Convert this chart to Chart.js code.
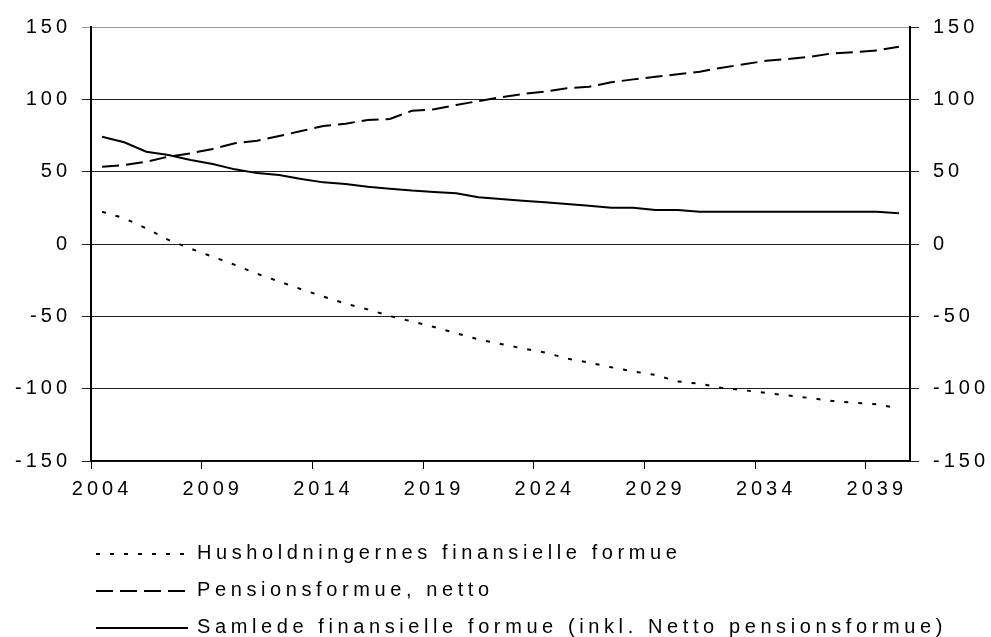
<!DOCTYPE html>
<html>
<head>
<meta charset="utf-8">
<script src="https://cdn.jsdelivr.net/npm/chart.js@4/dist/chart.umd.min.js"></script>
<style>
  html, body { margin: 0; padding: 0; background: #fff; }
  #wrap { width: 991px; height: 637px; }
</style>
</head>
<body>
<div id="wrap"><canvas id="chart"></canvas></div>
<script>
// år 2004-2040
const years = [];
for (let y = 2004; y <= 2040; y++) years.push(String(y));

const husholdninger = [
  22.3, 17.8, 10.8, 2.8, -3.2, -8.8, -14.4, -20.6, -25.9, -31.3,
  -36.3, -41.3, -45.2, -49.8, -53.5, -57.4, -61.7, -65.9, -69.1, -72.2,
  -75.0, -79.1, -82.0, -85.2, -88.1, -90.5, -95.0, -96.6, -99.5, -101.1,
  -103.0, -104.7, -106.5, -108.5, -109.8, -110.8, -113.7
];

const pension = [
  53.4, 54.6, 56.9, 60.4, 62.7, 65.7, 69.6, 71.4, 74.6, 78.1,
  81.6, 83.2, 85.7, 86.4, 92.1, 93.1, 96.1, 98.8, 101.4, 103.7,
  105.3, 107.6, 108.7, 111.8, 113.8, 115.6, 117.3, 119.1, 121.9, 124.2,
  126.7, 127.9, 129.5, 131.8, 132.7, 133.8, 136.4
];

const samlede = [
  74.2, 70.3, 63.8, 61.5, 58.0, 55.3, 51.6, 49.0, 47.7, 45.0,
  42.6, 41.5, 39.6, 38.2, 36.9, 36.0, 35.0, 32.3, 31.1, 29.9,
  28.8, 27.6, 26.5, 25.0, 25.1, 23.5, 23.5, 22.3, 22.3, 22.3,
  22.3, 22.3, 22.3, 22.3, 22.3, 22.3, 21.2
];

const seriesNames = [
  'Husholdningernes finansielle formue',
  'Pensionsformue, netto',
  'Samlede finansielle formue (inkl. Netto pensionsformue)'
];

const yMin = -150, yMax = 150, yStep = 50;

Chart.defaults.font.family = '"Liberation Sans", Arial, sans-serif';
Chart.defaults.font.size = 20;
Chart.defaults.color = '#000';

// teksten i originalen er spærret, så lidt bogstavafstand på hele canvas
const spacing = {
  id: 'spacing',
  beforeDraw(chart) {
    chart.ctx.letterSpacing = '4px';
  }
};

// legenden står under hinanden, så den tegnes selv
const stackedLegend = {
  id: 'stackedLegend',
  afterDraw(chart) {
    const c = chart.ctx;
    const x0 = 96, x1 = 188, tx = 197, top = 553, gap = 37;
    c.save();
    c.letterSpacing = '4.6px';
    c.font = '20px "Liberation Sans", Arial, sans-serif';
    c.fillStyle = '#000';
    c.textBaseline = 'middle';
    chart.data.datasets.forEach((ds, i) => {
      const y = top + i * gap;
      c.beginPath();
      c.setLineDash(ds.borderDash || []);
      c.lineWidth = ds.borderWidth;
      c.strokeStyle = ds.borderColor;
      c.moveTo(x0, y + 1);
      c.lineTo(x1, y + 1);
      c.stroke();
      c.setLineDash([]);
      c.fillText(ds.label, tx, y);
    });
    c.restore();
  }
};

new Chart(document.getElementById('chart'), {
  type: 'line',
  data: {
    labels: years,
    datasets: [
      { label: seriesNames[0], data: husholdninger, borderColor: '#000', borderWidth: 2, borderDash: [4, 10] },
      { label: seriesNames[1], data: pension, borderColor: '#000', borderWidth: 2, borderDash: [17, 7] },
      { label: seriesNames[2], data: samlede, borderColor: '#000', borderWidth: 2 }
    ]
  },
  options: {
    responsive: true,
    maintainAspectRatio: false,
    animation: false,
    layout: { padding: { top: 27, left: 0, right: 0, bottom: 0 } },
    elements: {
      point: { radius: 0, hoverRadius: 0 },
      line: { tension: 0 }
    },
    plugins: {
      legend: { display: false },
      tooltip: { enabled: false }
    },
    scales: {
      x: {
        offset: true,
        grid: {
          offset: true,
          drawOnChartArea: false,
          tickLength: 8,
          color: ctx => (ctx.index % 5 === 0 ? '#000' : 'rgba(0,0,0,0)')
        },
        border: { color: '#000', width: 1.5 },
        ticks: {
          autoSkip: false,
          maxRotation: 0,
          padding: 8,
          callback: (v, i) => (i % 5 === 0 ? years[i] : '')
        },
        afterFit: s => { s.height = 637 - 461; }
      },
      y: {
        position: 'left',
        min: yMin,
        max: yMax,
        grid: {
          tickLength: 9,
          color: ctx => (ctx.tick && ctx.tick.value === yMax ? '#999' : '#222'),
          lineWidth: 1
        },
        border: { color: '#000', width: 2 },
        ticks: { stepSize: yStep, padding: 11 },
        afterFit: s => { s.width = 91; }
      },
      y2: {
        position: 'right',
        min: yMin,
        max: yMax,
        grid: { drawOnChartArea: false, tickLength: 9, color: '#222' },
        border: { color: '#000', width: 2 },
        ticks: { stepSize: yStep, padding: 14 },
        afterFit: s => { s.width = 991 - 910; }
      }
    }
  },
  plugins: [spacing, stackedLegend]
});
</script>
</body>
</html>
